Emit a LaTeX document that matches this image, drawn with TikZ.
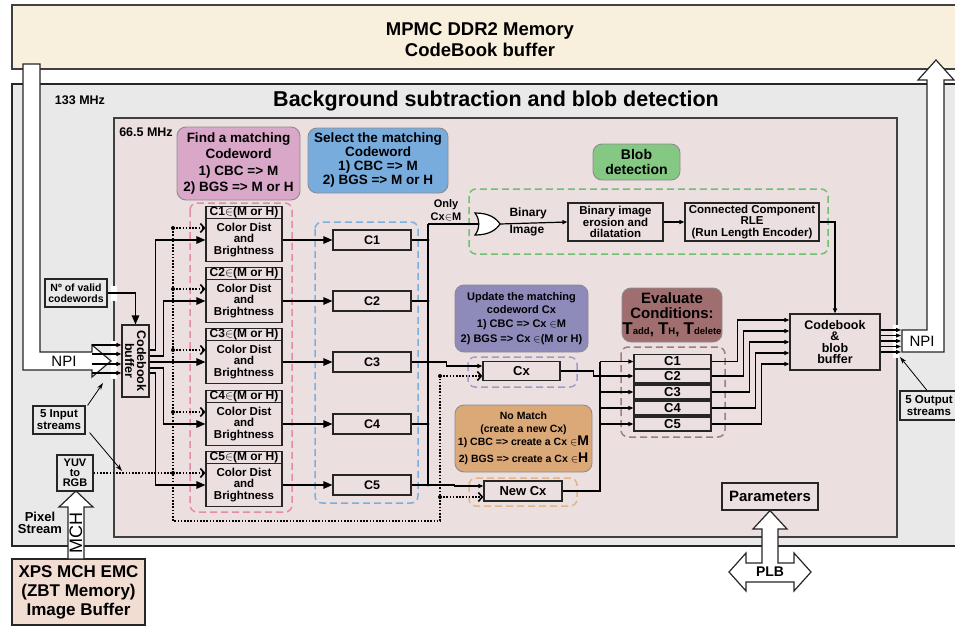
\documentclass[tikz,border=0pt]{standalone}
\usepackage{fontspec}
\setmainfont{Liberation Sans}
\usetikzlibrary{arrows.meta,calc}
\newcommand\fsz[2]{\fontsize{#1}{#2}\selectfont}
\definecolor{memfill}{HTML}{F9EFDD}
\definecolor{outfill}{HTML}{E9E9E9}
\definecolor{innfill}{HTML}{EBDFE0}
\definecolor{findfill}{HTML}{D9A7C7}
\definecolor{selfill}{HTML}{78ACDD}
\definecolor{blobfill}{HTML}{84C884}
\definecolor{updfill}{HTML}{8E8ABA}
\definecolor{nomfill}{HTML}{DBA878}
\definecolor{evfill}{HTML}{A06E6E}
\definecolor{xpsfill}{HTML}{F2DDD3}
\definecolor{pinkd}{HTML}{E58BAA}
\definecolor{blued}{HTML}{7AB0E0}
\definecolor{greend}{HTML}{70C070}
\definecolor{lavd}{HTML}{A09CC8}
\definecolor{tand}{HTML}{E2B486}
\definecolor{rosed}{HTML}{A07A86}
\begin{document}
\begin{tikzpicture}[x=1pt,y=-1pt,
  box/.style={draw=black!85, line width=1.2pt, inner sep=0pt, align=center, font=\bfseries},
  rbox/.style={draw=black!45, line width=0.9pt, rounded corners=9pt, inner sep=0pt, align=center},
  dbox/.style={line width=1.5pt, dash pattern=on 7pt off 4pt, rounded corners=7pt},
  wire/.style={line width=1.2pt},
  sarr/.style={wire, -{Triangle[length=9pt,width=7.5pt]}},
  tarr/.style={wire, -{Triangle[length=5pt,width=4pt]}},
  thinarr/.style={line width=0.8pt, -{Stealth[length=7pt,width=4.5pt]}},
  dotw/.style={line width=1.6pt, dash pattern=on 1.6pt off 1.6pt},
  darr/.style={dotw, -{Straight Barb[length=4pt,width=9pt]}},
  jdot/.style={circle, fill=black, inner sep=0pt, minimum size=4pt},
  warrow/.style={draw=black!85, fill=white, line width=1.2pt, line join=miter},
]
\useasboundingbox (0,0) rectangle (955,626);
\clip (0,0) rectangle (955,626);

% memory
\draw[fill=memfill, draw=black!75, line width=1.3pt] (12,5) rectangle (975,69);
\node[font=\bfseries\fsz{18.5}{21}, align=center] (memt) at (480,40) {MPMC DDR2 Memory\\CodeBook buffer};

% outer and inner boxes
\draw[fill=outfill, draw=black!85, line width=1.5pt] (12,84) rectangle (975,546);
\node[font=\bfseries\fsz{21.5}{24}] (title) at (496,101) {Background subtraction and blob detection};
\node[font=\bfseries\fsz{12.5}{14}] (f133) at (80,100) {133 MHz};
\draw[fill=innfill, draw=black!75, line width=1.2pt] (114,118) rectangle (897,537);
\node[font=\bfseries\fsz{12.5}{14}] (f665) at (146,132) {66.5 MHz};
\fill[white] (111,341) rectangle (117,379);
\fill[white] (111,286) rectangle (117,301);
\fill[white] (893,325) rectangle (899,358);

% dashed groups
\draw[dbox, draw=pinkd] (190,203) rectangle (292,512);
\draw[dbox, draw=blued] (315,222) rectangle (418,503);
\draw[dbox, draw=greend] (469,189) rectangle (828,254);
\draw[dbox, draw=lavd] (468,357) rectangle (577,387);
\draw[dbox, draw=tand] (469,478) rectangle (577,506);
\draw[dbox, draw=rosed] (621,347) rectangle (725,437);

% title boxes
\node[rbox, fill=findfill, minimum width=123pt, minimum height=73pt, font=\bfseries\fsz{13.5}{16.5}] (findt) at (238.5,163.5) {Find a matching\\Codeword\\1) CBC => M\\2) BGS => M or H};
\node[rbox, fill=selfill, minimum width=140pt, minimum height=65pt, font=\bfseries\fsz{13.5}{14}] (selt) at (378,160.5) {Select the matching\\Codeword\\1) CBC => M\\2) BGS => M or H};
\node[rbox, fill=blobfill, minimum width=87pt, minimum height=36pt, font=\bfseries\fsz{14}{15}] (blobt) at (636.5,162) {Blob\\detection};
\node[rbox, fill=updfill, minimum width=133pt, minimum height=67pt, font=\bfseries\fsz{11}{12.5}] (upd) at (521.5,318.5) {Update the matching\\codeword Cx\\[2pt]1) CBC => Cx $\in$M\\[2pt]2) BGS => Cx $\in$(M or H)};
\node[rbox, fill=nomfill, minimum width=137pt, minimum height=67pt, font=\bfseries\fsz{10.5}{12.5}] (nom) at (523.5,438.5) {No Match\\(create a new Cx)\\[1pt]1) CBC => create a Cx $\in${\fsz{14}{14}M}\\[4pt]2) BGS => create a Cx $\in${\fsz{14}{14}H}};
\node[rbox, fill=evfill, minimum width=100pt, minimum height=54pt, font=\bfseries\fsz{15}{14.5}] (evt) at (672,315) {Evaluate\\Conditions:\\[2pt]{\fsz{17}{17}T}{\fsz{9.5}{10}add}, {\fsz{17}{17}T}{\fsz{9.5}{10}H}, {\fsz{17}{17}T}{\fsz{9.5}{10}delete}};

% codebook buffer (left)
\node[box, fill=innfill, minimum width=27pt, minimum height=72pt] (cbb) at (135.5,361) {};
\node[rotate=-90, align=center, font=\bfseries\fsz{12.5}{12}] (cbbt) at (cbb.center) {Codebook\\buffer};

% find / select columns
\foreach \i/\y in {1/240,2/301,3/362,4/424,5/485}{
  \node[box, minimum width=76pt, minimum height=12pt, font=\bfseries\fsz{12}{12}] (fh\i) at (244,\y-27.5) {C\i$\in$(M or H)};
  \node[box, minimum width=76pt, minimum height=43pt, font=\bfseries\fsz{11.5}{11.5}] (f\i) at (244,\y) {Color Dist\\and\\Brightness};
  \node[box, minimum width=78pt, minimum height=20pt, font=\bfseries\fsz{12.5}{14}] (s\i) at (372,\y) {C\i};
  \draw[sarr] (f\i.east) -- (s\i.west);
  \coordinate (d\i) at (173,\y-12);
  \draw[darr] (d\i) -- (d\i -| f\i.west);
  \node[jdot] (jd\i) at (d\i) {};
}

% codebook buffer to find boxes
\draw[sarr] ($(cbb.east)+(0,-11)$) -- ++(6,0) |- (f1.west);
\draw[sarr] ($(cbb.east)+(0,-5)$) -- ++(14,0) |- (f2.west);
\draw[sarr] ($(cbb.east)+(0,1)$) -- (f3.west);
\draw[sarr] ($(cbb.east)+(0,7)$) -- ++(14,0) |- (f4.west);
\draw[sarr] ($(cbb.east)+(0,12)$) -- ++(6,0) |- (f5.west);

% Cx and New Cx
\node[box, minimum width=77pt, minimum height=19pt, font=\bfseries\fsz{13}{14}] (cx) at (521.5,371) {Cx};
\node[box, minimum width=78pt, minimum height=20pt, font=\bfseries\fsz{13}{14}] (ncx) at (523,491) {New Cx};

% selection bus
\coordinate (bt) at (428,224);
\coordinate (bb) at (428,485);
\draw[wire] (bt) -- (bb);
\foreach \i in {1,2,4}{
  \draw[wire] (s\i.east) -- (s\i.east -| bt);
}
\foreach \i in {1,2,3,4,5}{
  \node[jdot, minimum size=3pt] (jb\i) at (s\i.east -| bt) {};
}
\draw[tarr] (s3.east) -| ($(cx.west)+(-36,-5)$) -- ($(cx.west)+(0,-5)$);
\draw[tarr] (s5.east) -| ($(ncx.west)+(-29,-5)$) -- ($(ncx.west)+(0,-5)$);

% dotted path
\coordinate (dbl) at (173,521);
\coordinate (dbr) at (440,521);
\coordinate (dcx) at (440,376);
\coordinate (dncx) at (440,497);
\draw[dotw] (d1) -- (dbl) -- (dbr) -- (dcx);
\draw[darr] (dcx) -- ($(cx.west)+(0,5)$);
\draw[darr] (dncx) -- ($(ncx.west)+(0,6)$);
\node[jdot] (jdcx) at (dcx) {};
\node[jdot] (jdncx) at (dncx) {};

% OR gate and blob detection
\coordinate (orin) at (479,224);
\coordinate (orout) at (500,224);
\draw[wire] (bt) -- (orin);
\draw[wire, fill=white] (475,213) .. controls (489,213) and (496,218) .. (500,224) .. controls (496,230) and (489,235) .. (475,235) .. controls (480,229) and (480,219) .. (475,213) -- cycle;
\node[font=\bfseries\fsz{11}{13}, align=center] (onlyl) at (446,210) {Only\\Cx$\in$M};
\node[box, minimum width=95pt, minimum height=38pt, font=\bfseries\fsz{11.5}{11.5}] (ero) at (615.5,222) {Binary image\\erosion and\\dilatation};
\node[box, minimum width=134pt, minimum height=38pt, font=\bfseries\fsz{11.5}{11.5}] (rle) at (752,222) {Connected Component\\RLE\\(Run Length Encoder)};
\node[font=\bfseries\fsz{12}{17}, align=left, anchor=west] (binl) at (506,221.5) {Binary\\Image};
\draw[tarr] (orout) -- (ero.west);
\draw[tarr] (ero.east) -- (rle.west);

% codebook & blob buffer
\node[box, minimum width=90pt, minimum height=56pt, font=\bfseries\fsz{12.5}{11.5}] (cbuf) at (835,342) {Codebook\\\&\\blob\\buffer};
\draw[tarr] (rle.east) -| (cbuf.north);

% evaluate boxes
\foreach \i/\y in {1/361.5,2/376,3/392,4/408,5/424}{
  \node[box, minimum width=77pt, minimum height=14pt, font=\bfseries\fsz{13}{14}] (e\i) at (672.5,\y) {C\i};
}
\coordinate (ebt) at (600,361.5);
\draw[wire] (ncx.east) -| (ebt);
\foreach \i in {1,2,3,4,5}{
  \draw[tarr] (e\i.west -| ebt) -- (e\i.west);
}
\draw[wire] (cx.east) -- ++(33,0) |- (e2.west -| ebt);
\node[jdot, minimum size=3pt] (je2) at (e2.west -| ebt) {};
\foreach \i/\xx/\dy in {1/738/-22,2/744/-11,3/750/0,4/756/11,5/762/22}{
  \draw[tarr] (e\i.east) -| ($(cbuf.west)+(\xx-790,\dy)$) -- ($(cbuf.west)+(0,\dy)$);
}

% right NPI
\coordinate (npil) at (901,341);
\foreach \k in {-11,-5.5,0,5.5,11}{
  \draw[tarr] ($(cbuf.east)+(0,\k-1)$) -- ($(npil)+(0,\k)$);
}
\draw[warrow] (902,330) -- (927,330) -- (927,80) -- (918,80) -- (936,60) -- (954,80) -- (944,80) -- (944,352) -- (902,352) -- cycle;
\node[font=\fsz{15}{16}] (npiR) at (922,341) {NPI};
\node[box, fill=outfill, minimum width=58pt, minimum height=29pt, font=\bfseries\fsz{11.5}{12}] (outs) at (929,405.5) {5 Output\\streams};
\coordinate (outp) at (900,357);
\draw[thinarr] ($(outs.north)+(-2,0)$) -- (outp);

% left NPI
\draw[warrow] (23,64) -- (40,64) -- (40,352) -- (92,352) -- (92,345) -- (111,361) -- (92,377) -- (92,370) -- (23,370) -- cycle;
\node[font=\fsz{15}{16}] (npiL) at (64,361) {NPI};
\coordinate (npih) at (92,361);
\foreach \k in {-16,-7,3,12}{
  \draw[tarr] ($(npih)+(0,\k)$) -- ($(cbb.west)+(0,\k)$);
}

% number of valid codewords
\node[box, fill=outfill, minimum width=62pt, minimum height=28pt, font=\bfseries\fsz{10.5}{11.5}] (nov) at (76,293) {Nº of valid\\codewords};
\draw[sarr] (nov.east) -| (cbb.north);

% input streams
\node[box, fill=outfill, minimum width=52pt, minimum height=28pt, font=\bfseries\fsz{11.5}{12}] (ins) at (59,420) {5 Input\\streams};
\coordinate (inp1) at (103,383);
\coordinate (inp2) at (122,471);
\draw[thinarr] ($(ins.north east)+(2,0)$) -- (inp1);
\draw[thinarr] ($(ins.south east)+(4,-2)$) -- (inp2);

% YUV to RGB
\node[box, fill=outfill, minimum width=36pt, minimum height=36pt, font=\bfseries\fsz{11}{10}] (yuv) at (75,473) {YUV\\to\\RGB};
\draw[dotw] (yuv.east) -- (d5);
\node[font=\bfseries\fsz{13}{12.5}, align=center] (pix) at (40,523) {Pixel\\Stream};

% XPS
\node[box, fill=xpsfill, minimum width=133pt, minimum height=66pt, font=\bfseries\fsz{17}{19}] (xps) at (78.5,592) {XPS MCH EMC\\(ZBT Memory)\\Image Buffer};
\draw[warrow] (76,491) -- (93,507) -- (84,507) -- (84,559) -- (68,559) -- (68,507) -- (59,507) -- cycle;
\node[rotate=90, font=\fsz{18}{18}] (mch) at (76,533) {MCH};

% Parameters and PLB
\node[box, fill=innfill, minimum width=96pt, minimum height=27pt, font=\bfseries\fsz{15}{16}] (par) at (770,496.5) {Parameters};
\draw[warrow] (par.south) -- (787,529) -- (778,529) -- (778,563) -- (794,563) -- (794,553) -- (811,572) -- (794,591) -- (794,582) -- (746,582) -- (746,591) -- (729,572) -- (746,553) -- (746,563) -- (762,563) -- (762,529) -- (753,529) -- cycle;
\node[font=\bfseries\fsz{14}{15}] (plb) at (770,572) {PLB};
\end{tikzpicture}
\end{document}
